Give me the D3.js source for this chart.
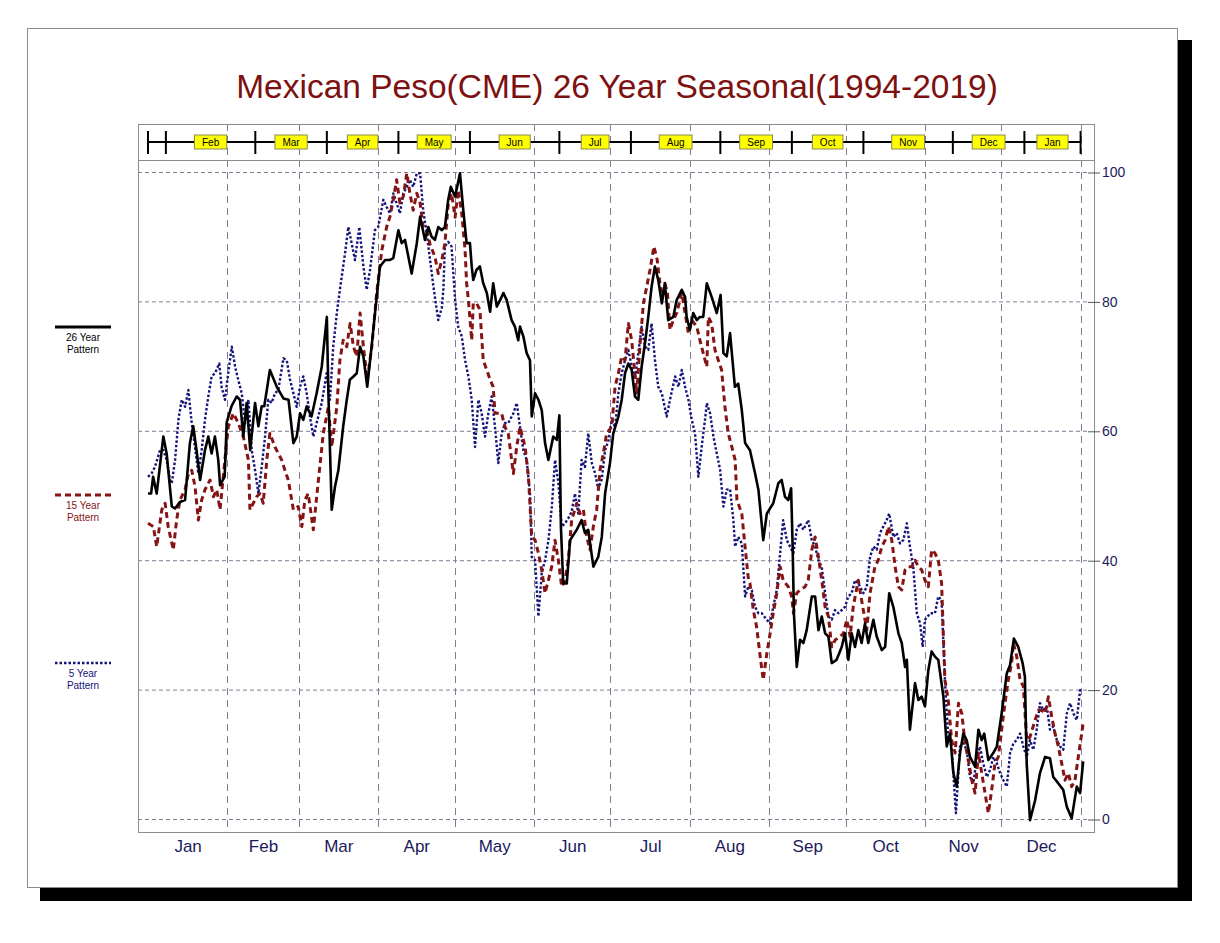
<!DOCTYPE html>
<html>
<head>
<meta charset="utf-8">
<script src="https://cdnjs.cloudflare.com/ajax/libs/d3/7.8.5/d3.min.js"></script>
<style>
body { margin: 0; background: #fff; }
text { font-family: "Liberation Sans", Arial, Helvetica, sans-serif; }
</style>
</head>
<body>
<div id="chart"></div>
<script>
// month axis (day of year where each month starts)
var monthNames = ["Jan","Feb","Mar","Apr","May","Jun","Jul","Aug","Sep","Oct","Nov","Dec"];
var monthStarts = [0,31,59,90,120,151,181,212,243,273,304,334,365];

// contract band along the top
var bandTicks = [0,7,42,70,98,126,161,189,224,252,280,315,343,365];
var bandLabels = ["Feb","Mar","Apr","May","Jun","Jul","Aug","Sep","Oct","Nov","Dec","Jan"];

var yTicks = [0,20,40,60,80,100];

// [day of year, seasonal index]
var pattern26 = [[0,50.3],[1.2,50.3],[2,52.9],[3.4,50.3],[6,59.1],[7.3,56.5],[9.3,48.3],[10.6,48],[12.5,49],[14.5,49.3],[16.4,58.1],[17.7,60.7],[19,57],[20.4,52.4],[22.3,57],[23.6,59.1],[24.9,56.5],[26.2,59.1],[27.5,55.5],[28.2,51.6],[30,52.9],[30.8,61.3],[32.7,63.8],[34.7,65.3],[36,64.8],[37.3,59.1],[38.6,64.3],[40,57],[41.9,64.3],[43.2,60.7],[44.5,63.8],[45.5,63.8],[46.5,66.3],[47.7,69.4],[50.4,66.8],[53,65],[55,64.8],[56.9,58.1],[58.2,59.1],[59.5,62.7],[60.8,61.7],[62.1,63.8],[64,62.2],[66,65.8],[68,69.9],[70,77.6],[70.6,65.8],[71.9,47.8],[73.2,51.4],[74.5,53.9],[76.4,60.7],[77.8,64.8],[79,67.9],[80.4,68.4],[81.7,68.9],[83,73],[84.3,71.5],[85.8,66.8],[87.5,73],[89.5,80.7],[90.8,85.4],[92.8,86.4],[94.7,86.4],[96,86.7],[97.3,89.5],[98,91],[99.3,89],[100.6,89.5],[103.2,84.3],[105.2,89],[106.5,93.1],[108.4,89.5],[109.7,91.5],[111,90],[112.3,89.5],[113.6,91.5],[115,91],[116.2,91.5],[117.5,95.7],[118.5,97.7],[120.2,96.2],[122.1,99.8],[123.4,94.1],[124.7,89],[126,89],[126.7,85.4],[127.3,83.3],[128.6,84.9],[129.9,85.4],[131.2,82.8],[132.6,81.3],[133.9,78.4],[135.1,82.8],[136.5,79.2],[137.8,80.2],[139.1,81.3],[140.4,80.2],[142.3,77.1],[143.6,76.1],[144.9,74],[145.6,76.1],[146.9,74.6],[148.2,72],[149.5,70.9],[150.2,62.2],[151.5,65.8],[152.8,64.8],[154.1,63.2],[155.4,58.1],[156.7,55.5],[158.6,59.1],[160,58.6],[161,62.4],[161.6,45.2],[162.5,36.4],[163.9,36.4],[165.2,43.1],[167.8,44.7],[169.7,46.2],[171,44.2],[172.3,44.7],[174.3,39],[176.2,40.5],[177.6,43.6],[178.9,50.3],[180.8,55],[182.1,59.6],[184.1,62.2],[185.4,64.8],[186.7,68.9],[188,70.4],[189.3,69.4],[190.6,65.3],[191.9,64.8],[193.2,69.9],[194.5,73.5],[195.8,77.6],[197.1,82.3],[198.4,85.4],[199.7,83.3],[201.1,79.7],[202.3,82.8],[203.6,77.1],[205.6,77.6],[206.9,80.2],[208.9,81.8],[210.2,80.7],[210.8,77.6],[212.1,75.6],[213.4,78.2],[214.8,77.1],[216,77.6],[217.3,77.6],[218.7,82.8],[220.6,80.7],[222.6,78.2],[224.1,81],[225.2,72],[226.5,71.5],[227.8,75.1],[229.7,66.8],[231,67.3],[232.4,63.2],[233.7,58.1],[235.6,57],[237.6,53.4],[238.9,50.9],[240.8,43.1],[242.2,47.2],[244.7,48.8],[246.7,51.9],[248,52.4],[249.3,49.8],[250.6,49.3],[251.7,51.1],[252.3,42.1],[252.8,31.8],[253.9,23.5],[255.2,27.7],[256.5,27.2],[257.8,29.2],[259.8,34.4],[261.1,34.4],[262.4,29.2],[263.7,31.3],[265,28.7],[266.3,28.2],[267.6,24.1],[269.5,24.6],[271.5,26.6],[272.8,28.7],[274.1,24.6],[275.4,28.7],[276.7,26.6],[278,29.2],[279.3,27.2],[280.6,30.2],[281.9,27.2],[283.9,30.8],[285.2,28.2],[287.2,26.1],[288.5,26.6],[290.1,34.9],[291.7,32.8],[293.7,28.7],[295,27.2],[296.3,23.5],[297,24.6],[298.2,13.8],[300.2,21],[301.5,18.4],[302.8,18.9],[304.1,17.4],[305.4,23],[306.7,25.9],[308,25.1],[309.3,24.6],[311.3,18.9],[312.6,11.2],[313.9,13.2],[315.2,7.1],[316.5,5],[317.8,10.2],[319.1,13.2],[320.4,12.2],[321.7,9.6],[323.7,8.1],[325,13.8],[326.3,12.2],[327.3,13.2],[328.9,9.1],[330.8,10.2],[332.2,11.2],[334.1,16.3],[336.1,22.5],[337.4,23.8],[338.9,27.9],[340.6,26.6],[342.3,24.1],[343.2,22],[343.9,8.6],[345.2,-0.2],[347.2,2.9],[349.1,7.1],[351.1,9.6],[353,9.4],[354.3,6.5],[356.3,5.5],[358.2,4.5],[359.6,1.9],[361.5,0.1],[363.5,5],[364.8,4],[366,8.9]];

var pattern15 = [[0,45.7],[2.1,45.2],[3.4,42.1],[5.4,47.8],[6.7,48.8],[7.9,45.2],[9.9,41.6],[11.2,46.2],[12.5,49.3],[14.5,50.9],[15.8,53.4],[17.1,53.9],[18.4,51.4],[19.7,46.2],[21,49.3],[22.3,50.9],[24.3,52.4],[25.6,49.8],[26.9,50.9],[28.2,47.8],[30.1,55.5],[31.4,60.6],[33.4,62.7],[35.3,61.2],[37.3,59.1],[39.3,55.5],[39.9,47.8],[41.2,48.8],[42.5,49.8],[43.8,50.3],[45.1,48.8],[46.5,55.5],[47.7,59.6],[49.7,57.5],[51,56.5],[52.3,55.5],[53.6,53.9],[54.9,52.4],[56.9,47.8],[58.8,48.3],[60.2,45.2],[61.4,49.3],[62.7,50.3],[64.7,44.7],[66.7,52.4],[68.6,59.6],[70.6,63.7],[71.9,57.5],[73.9,63.7],[75.1,70.9],[76.4,74],[77.8,73],[79.1,76.6],[80.4,73],[81.7,71.5],[83,78.2],[84.3,73],[85.8,67.9],[87.6,73],[89.5,81.3],[91.5,87.9],[93.4,91.5],[94.7,93.1],[96,95.7],[97.3,98.8],[98.6,95.2],[99.9,96.2],[101.3,99.8],[102.5,96.7],[103.8,94.1],[105.2,96.7],[106.5,95.2],[107.7,91.5],[109.1,91],[110.4,88.8],[112.3,86.9],[113.6,84.3],[115,86.4],[116.2,89],[117.5,95],[118.8,96.7],[120.2,93],[121.4,97.2],[122.8,93.6],[124.1,87.9],[124.7,82.8],[125.4,80.2],[126.7,74],[127.3,79.7],[128.6,79.7],[129.9,78.7],[131.2,70.9],[132.6,69.4],[133.9,67.9],[135.1,66.8],[135.8,62.7],[137.1,62.7],[138.4,62.7],[139.7,60.6],[141,59.6],[143,53.4],[144.3,57.5],[145.6,60.6],[147.6,57.5],[148.9,52.9],[150.2,43.6],[151.5,43.1],[152.8,41.1],[154.1,38.5],[155.4,34.9],[156.7,36.9],[158,39],[159.3,43.1],[160.6,40],[161.9,35.9],[163.2,36.9],[164.5,40],[165.8,46.2],[167.8,48.8],[169.1,47.2],[170.4,47.8],[171.7,43.6],[173,41.6],[174.3,45.2],[175.6,47.8],[176.9,53.9],[178.2,56.5],[179.5,59.6],[181.5,60.6],[182.8,66.8],[184.1,68.9],[185.4,71.5],[186.7,70.9],[188,76.6],[189.3,74],[191.3,65.8],[192.6,73.5],[193.9,79.7],[195.2,82.3],[196.5,84.9],[198,88.5],[199.3,86.4],[201.1,80.2],[202.3,82.8],[203.3,81.3],[204.3,75.6],[205.6,77.1],[206.9,78.2],[208.9,81.3],[210.2,78.2],[211.5,75.1],[212.8,77.1],[214.8,76.1],[216,74],[217.3,72],[218.7,69.9],[219.3,77.6],[220.6,76.6],[221.9,72.5],[223.2,70.9],[224.5,69.4],[225.8,63.7],[227.1,59.6],[228.5,57.5],[229.8,55.5],[230.5,49.3],[232.4,47.2],[233.7,42],[235,37],[235.6,36.4],[236.9,32.3],[238.2,29.7],[239.6,25.1],[240.8,21.5],[242.2,25.6],[243.5,28.7],[244.7,31.8],[246.1,34.9],[247.4,39],[248.6,36.9],[250.6,35.9],[251.9,34.4],[252.6,31.8],[253.9,34.9],[255.2,35.4],[257.2,35.9],[258.4,36.9],[259.8,41.6],[261.1,43.6],[262.4,40.5],[263.7,36.9],[265,32.8],[266.3,31.3],[267.6,26.6],[269,27.7],[271,28.2],[272.2,28.7],[273.5,30.8],[274.8,28.2],[276,32.8],[278,36.9],[279.3,33.8],[281.3,29.2],[282.6,34.9],[284.5,39],[285.8,40],[287.2,42.1],[288.5,43.1],[289.8,45.2],[291.1,43.1],[292.4,39],[293.7,35.9],[295,35.4],[296.3,38.5],[297.6,39],[299,39],[300.2,40],[301.5,39],[302.8,38.5],[304.1,36.9],[305.4,35.9],[306.7,41.6],[308,41.1],[309.3,40],[310.6,36.4],[311.9,21.5],[313.2,18.4],[314.5,12.2],[315.9,10.2],[317.2,17.9],[318.5,16.3],[319.8,11.7],[321.1,9.1],[322.4,6],[323.7,4],[325,10.2],[326.3,7.1],[327.6,4],[328.9,0.9],[330.2,4.5],[331.5,8.6],[332.8,9.6],[334.1,13.8],[335.4,17.9],[336.7,21.5],[338,24.1],[338.7,27.2],[340,25.1],[341.3,21.5],[342.6,20.5],[343.9,12.2],[345.2,12.7],[347.2,15.3],[348.5,16.8],[349.8,16.8],[351.1,16.3],[352.4,18.9],[353.7,15.8],[355,13.2],[356.3,11.2],[357.6,8.6],[358.9,6],[360.2,7.1],[361.5,5],[362.8,6],[364.1,9.6],[366,14.8]];

var pattern5 = [[0,52.9],[1.4,53.4],[2.7,54.4],[4.7,57],[6,57],[7.3,55.5],[8.6,52.4],[9.3,51.9],[10.6,55.5],[11.9,61.7],[13.2,64.8],[14.5,63.7],[15.8,66.3],[17.1,61.2],[18.4,57.5],[19.7,53.4],[21,57],[22.3,61.7],[23.6,65.3],[24.9,68.4],[26.2,68.9],[27.9,70.4],[28.8,66.8],[30.1,64.8],[31.4,68.9],[32.8,73],[34.1,69.9],[35.3,67.9],[36.7,65.8],[38,61.2],[39.3,64.8],[40.6,57],[41.9,53.9],[43.2,50.3],[44.5,54.4],[45.8,59.1],[47.1,64.8],[48.4,64.3],[49.7,65.8],[51,66.3],[53,71.2],[54.3,70.9],[55.6,67.9],[56.9,65.8],[58.2,63.7],[59.5,66.8],[60.8,68.4],[62.1,65.8],[63.4,62.2],[64.7,59.1],[66,61.2],[68,64.3],[69.9,68.9],[71.2,64.8],[72.5,73],[73.9,78.2],[75.1,81.8],[77.1,87.4],[78.4,91.5],[79.7,89],[81,86.4],[82.7,91.5],[84.3,85.4],[85.6,81.8],[86.9,84.9],[88.8,91],[90.1,91.5],[92.1,95.7],[93.4,94.6],[94.7,93.6],[96,96.7],[97.3,95.2],[98.6,93.6],[99.9,96.7],[101.3,97.7],[102.5,98.8],[103.8,97.7],[105.2,99.8],[106.5,99.8],[107.7,94.1],[109.1,90.5],[110.4,86.4],[111.7,82.3],[113.6,77.1],[115,79],[115.6,81.8],[116.2,88.5],[117.5,89.2],[118.8,88.5],[120.2,80.2],[121.4,76.1],[122.8,74.6],[124.1,70.9],[125.4,68.4],[126.7,64.8],[128,57.5],[129.3,64.8],[130.6,62.7],[131.9,59.1],[133.2,62.7],[134.5,65.3],[135.8,60.6],[137.1,55],[138.4,59.6],[139.7,61.2],[141,61.2],[143,62.7],[144.3,64.3],[145.6,60.6],[146.9,57],[148.2,55.5],[149.5,50.3],[150.2,40.5],[151.5,40],[152.8,31.3],[154.1,38],[155.4,40],[156.7,43],[158,48],[159.3,55.5],[160.6,52],[161.9,45.2],[163.2,45.7],[164.5,46.5],[165.8,47.5],[167.1,50.3],[168.4,47.2],[169.7,55.5],[171,54.4],[172.3,59.6],[173.7,55],[175,53.4],[176.2,51],[177.6,52.5],[178.9,57],[180.2,58.5],[181.5,61.7],[182.8,60.6],[184.1,65.8],[185.4,68.9],[186.7,70.9],[188,72.5],[189.3,70],[190.6,68],[191.9,72],[193.2,76.1],[194.5,73],[195.8,72.5],[197.1,76.6],[198.4,71],[199.7,66.8],[201.1,65.8],[203,62.2],[204.3,64.8],[206.3,68.4],[207.6,66.8],[208.9,69.4],[210.2,66.8],[211.5,64.8],[212.8,61.7],[214.1,59.6],[215.4,52.9],[216.7,57.5],[218,61.7],[218.7,64.3],[220,62.7],[221.3,59.1],[222.6,56.5],[223.9,54],[225.2,48.3],[226.5,50.9],[227.8,51],[229.1,46.2],[229.8,42.1],[231,43.6],[232.4,42.6],[233.7,34.4],[235,36],[236.3,35.4],[237.6,32.8],[238.9,31.8],[240.2,31.8],[242.2,30.8],[243.5,30.2],[244.7,32.8],[246.1,35.4],[247.4,41.1],[248.6,46.2],[250,43.1],[251.3,42.1],[252.6,41.1],[253.9,44.7],[255.2,45.7],[256.5,44.7],[258.4,46.2],[259.8,43.1],[261.1,42.1],[262.4,40],[263.7,38.9],[265,34.9],[266.3,31.3],[267.6,30.8],[268.9,32.3],[270.2,31.8],[271.5,32.3],[272.8,32.8],[274.1,34.4],[275.4,34.9],[276.7,36.9],[278,36.4],[280,34.9],[281.3,35.9],[282.6,40.5],[283.9,42.1],[285.2,41.6],[286.5,44.2],[287.8,45.2],[289.1,46.2],[290.1,47.2],[291.7,43.6],[293,44.2],[294.3,42.6],[295.6,43.1],[297,45.7],[298.2,42.1],[299.5,39],[300.9,31.8],[302.2,30.2],[303.2,26.6],[304.1,30.8],[306.1,31.8],[308,31.8],[309.3,34.4],[310.6,33.8],[311.9,21.5],[313.2,12.7],[314.5,11.2],[316.2,0.9],[317.8,11.2],[319.1,11.7],[320.4,10.7],[321.7,6.5],[323,5.5],[324.3,9.1],[325.6,11.2],[326.9,8.6],[328.3,6.5],[329.6,7.6],[330.8,9.6],[332.2,8.6],[333.5,7.1],[334.8,6],[336.1,5],[337.4,10.2],[338.7,11.7],[340,12.2],[341.3,13.2],[342.6,11.2],[343.9,9.6],[345.2,12.2],[346.5,10.7],[347.8,13.8],[349.1,17.9],[350.4,16.8],[351.8,17.4],[353,13.8],[354.3,14.3],[355.7,12.2],[357,11.2],[358.2,10.7],[359.6,16.3],[360.9,17.9],[362.2,16.3],[363.5,15.3],[364.8,19.9],[366,19.9]];

var series = [
	{name: "5 Year", data: pattern5, color: "#14147a", width: 2.4, dash: "2.5,2", legendY: 663},
	{name: "15 Year", data: pattern15, color: "#861414", width: 3, dash: "6,4", legendY: 495},
	{name: "26 Year", data: pattern26, color: "#000000", width: 2.6, dash: null, legendY: 327}
];

var width = 1220, height = 943;
var plot = {left: 138, right: 1094, top: 160, bottom: 832};
var bandTop = 124;
var gridColor = "#857a92";
var navy = "#1b1a5c";

var x = d3.scaleLinear().domain([0, 365]).range([148, 1080.6]);
var y = d3.scaleLinear().domain([0, 100]).range([819, 172]);

var svg = d3.select("#chart").append("svg")
	.attr("width", width)
	.attr("height", height);

// page with drop shadow
svg.append("rect").attr("x", 40).attr("y", 40).attr("width", 1152).attr("height", 861).attr("fill", "#000");
svg.append("rect").attr("x", 27.5).attr("y", 28.5).attr("width", 1150).attr("height", 859)
	.attr("fill", "#fff").attr("stroke", "#8c8c8c");

svg.append("text")
	.attr("x", 617).attr("y", 98)
	.attr("text-anchor", "middle")
	.attr("font-size", 33.5)
	.attr("fill", "#7d1010")
	.text("Mexican Peso(CME) 26 Year Seasonal(1994-2019)");

// horizontal grid
svg.append("g").selectAll("line")
	.data(yTicks)
	.enter().append("line")
	.attr("x1", plot.left).attr("x2", 1088)
	.attr("y1", function(d) { return y(d) + 0.5; })
	.attr("y2", function(d) { return y(d) + 0.5; })
	.attr("stroke", gridColor)
	.attr("stroke-dasharray", "4,3");

// vertical month grid (runs through the top band too)
svg.append("g").selectAll("line")
	.data(monthStarts.slice(1))
	.enter().append("line")
	.attr("x1", function(d) { return Math.round(x(d)) + 0.5; })
	.attr("x2", function(d) { return Math.round(x(d)) + 0.5; })
	.attr("y1", bandTop).attr("y2", plot.bottom)
	.attr("stroke", gridColor)
	.attr("stroke-dasharray", "7,5");

// top band
var bandMid = 142;
svg.append("line")
	.attr("x1", x(bandTicks[0])).attr("x2", x(bandTicks[bandTicks.length - 1]))
	.attr("y1", bandMid).attr("y2", bandMid)
	.attr("stroke", "#000").attr("stroke-width", 2);

svg.append("g").selectAll("line")
	.data(bandTicks)
	.enter().append("line")
	.attr("x1", function(d) { return x(d); })
	.attr("x2", function(d) { return x(d); })
	.attr("y1", 131).attr("y2", 154)
	.attr("stroke", "#000").attr("stroke-width", 2);

var lab = svg.append("g").selectAll("g")
	.data(bandLabels)
	.enter().append("g")
	.attr("transform", function(d, i) {
		return "translate(" + (x(bandTicks[i + 1]) + x(bandTicks[i + 2])) / 2 + "," + bandMid + ")";
	});

lab.append("text")
	.attr("text-anchor", "middle")
	.attr("dy", "0.36em")
	.attr("font-size", 10)
	.attr("fill", "#000")
	.text(function(d) { return d; })
	.each(function() {
		var w = this.getComputedTextLength() + 15;
		d3.select(this.parentNode).insert("rect", "text")
			.attr("x", -w / 2).attr("y", -7)
			.attr("width", w).attr("height", 14)
			.attr("fill", "#ffff00")
			.attr("stroke", "#8a8a50")
			.attr("stroke-width", 1);
	});

// frames
svg.append("rect")
	.attr("x", plot.left + 0.5).attr("y", bandTop + 0.5)
	.attr("width", plot.right - plot.left).attr("height", plot.top - bandTop)
	.attr("fill", "none").attr("stroke", "#8c8c8c");
svg.append("rect")
	.attr("x", plot.left + 0.5).attr("y", plot.top + 0.5)
	.attr("width", plot.right - plot.left).attr("height", plot.bottom - plot.top)
	.attr("fill", "none").attr("stroke", "#8c8c8c");

// right value axis
var yAxis = svg.append("g")
	.attr("transform", "translate(1088,0.5)")
	.call(d3.axisRight(y).tickValues(yTicks).tickSize(12).tickPadding(2));
yAxis.select(".domain").remove();
yAxis.selectAll("line").attr("stroke", "#555");
yAxis.selectAll("text")
	.attr("font-family", "'Liberation Sans', Arial, sans-serif")
	.attr("font-size", 14)
	.attr("fill", navy);

// month names under the plot
var mids = monthNames.map(function(m, i) { return (monthStarts[i] + monthStarts[i + 1]) / 2; });
var xAxis = svg.append("g")
	.attr("transform", "translate(0," + plot.bottom + ")")
	.call(d3.axisBottom(x).tickValues(mids).tickSize(0).tickPadding(8)
		.tickFormat(function(d, i) { return monthNames[i]; }));
xAxis.select(".domain").remove();
xAxis.selectAll("text")
	.attr("font-family", "'Liberation Sans', Arial, sans-serif")
	.attr("font-size", 17)
	.attr("fill", navy);

// lines
svg.append("clipPath").attr("id", "clip")
	.append("rect")
	.attr("x", plot.left).attr("y", plot.top)
	.attr("width", plot.right - plot.left).attr("height", plot.bottom - plot.top);

var line = d3.line()
	.x(function(d) { return x(d[0]); })
	.y(function(d) { return y(d[1]); });

svg.append("g").attr("clip-path", "url(#clip)")
	.selectAll("path")
	.data(series)
	.enter().append("path")
	.attr("d", function(d) { return line(d.data); })
	.attr("fill", "none")
	.attr("stroke", function(d) { return d.color; })
	.attr("stroke-width", function(d) { return d.width; })
	.attr("stroke-dasharray", function(d) { return d.dash; })
	.attr("stroke-linejoin", "round");

// legend at the left margin
var leg = svg.append("g").selectAll("g")
	.data(series)
	.enter().append("g")
	.attr("transform", function(d) { return "translate(83," + d.legendY + ")"; });

leg.append("line")
	.attr("x1", -28).attr("x2", 28)
	.attr("stroke", function(d) { return d.color; })
	.attr("stroke-width", function(d) { return d.dash ? d.width : 3; })
	.attr("stroke-dasharray", function(d) { return d.dash; });

leg.append("text")
	.attr("text-anchor", "middle")
	.attr("y", 14)
	.attr("font-size", 10)
	.attr("fill", function(d) { return d.color; })
	.text(function(d) { return d.name; });

leg.append("text")
	.attr("text-anchor", "middle")
	.attr("y", 26)
	.attr("font-size", 10)
	.attr("fill", function(d) { return d.color; })
	.text("Pattern");
</script>
</body>
</html>
